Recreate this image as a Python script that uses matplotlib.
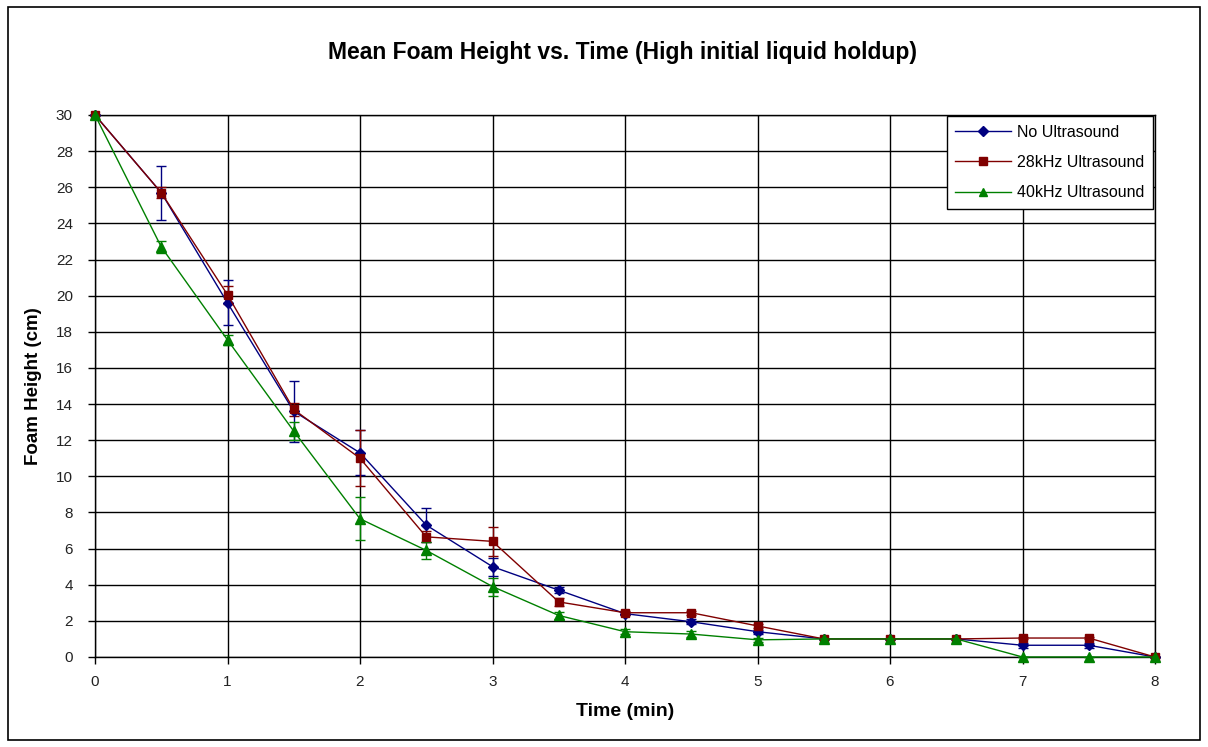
import matplotlib
matplotlib.use("Agg")
import matplotlib.pyplot as plt
from matplotlib.patches import Rectangle
from matplotlib.lines import Line2D

plt.rcParams['font.family'] = ['Liberation Sans', 'DejaVu Sans']

# Sampling times (min)
time_min = [0, 0.5, 1, 1.5, 2, 2.5, 3, 3.5, 4, 4.5, 5, 5.5, 6, 6.5, 7, 7.5, 8]

# Mean foam height (cm) for each condition
no_us = [30, 25.7, 19.6, 13.6, 11.3, 7.3, 5.0, 3.7, 2.4, 1.95, 1.4, 1.0, 1.0, 1.0, 0.65, 0.65, 0]
us_28k = [30, 25.7, 20.05, 13.7, 11.0, 6.65, 6.4, 3.05, 2.45, 2.45, 1.72, 1.0, 1.0, 1.0, 1.05, 1.05, 0]
us_40k = [30, 22.7, 17.55, 12.5, 7.65, 5.9, 3.9, 2.3, 1.4, 1.27, 0.95, 1.0, 1.0, 1.0, 0, 0, 0]

# Error bar half-widths (cm)
no_us_err = [0, 1.5, 1.25, 1.7, 1.25, 0.95, 0.5, 0.15, 0.1, 0.15, 0.1, 0, 0, 0, 0.15, 0.15, 0]
us_28k_err = [0, 0.3, 0.5, 0.35, 1.55, 0.3, 0.8, 0.2, 0.1, 0.1, 0.1, 0, 0, 0, 0.05, 0.05, 0]
us_40k_err = [0, 0.35, 0.3, 0.5, 1.2, 0.45, 0.5, 0.2, 0.15, 0.15, 0.1, 0, 0, 0, 0, 0, 0]

series_labels = ['No Ultrasound', '28kHz Ultrasound', '40kHz Ultrasound']
x_ticks = list(range(0, 9))
y_ticks = list(range(0, 31, 2))

W, H = 1208, 747
fig = plt.figure(figsize=(W / 100, H / 100), dpi=100)
fig.patch.set_facecolor('white')

ax = fig.add_axes([95 / W, 1 - 657 / H, (1155 - 95) / W, (657 - 115) / H])

styles = [
    (no_us, no_us_err, '#000080', 'D', 5.5),
    (us_28k, us_28k_err, '#800000', 's', 6.0),
    (us_40k, us_40k_err, '#008000', '^', 6.5),
]
handles = []
for (vals, err, col, mk, ms), lab in zip(styles, series_labels):
    ax.errorbar(time_min, vals, yerr=err, color=col, marker=mk, markersize=ms,
                linewidth=1.0, elinewidth=1.0, capsize=3.5, capthick=1.0,
                clip_on=False, zorder=3)
    handles.append(Line2D([], [], color=col, marker=mk, markersize=ms * 0.85,
                          linewidth=1.0, label=lab))

ax.set_xlim(0, 8)
ax.set_ylim(0, 30)
ax.set_xticks(x_ticks)
ax.set_yticks(y_ticks)
ax.grid(True, color='black', linewidth=1.0, zorder=0)
ax.set_axisbelow(True)
for s in ax.spines.values():
    s.set_color('black')
    s.set_linewidth(1.0)
ax.tick_params(axis='both', direction='out', length=5, width=1.0,
               labelsize=11, colors='black')
ax.tick_params(axis='y', pad=11)
ax.tick_params(axis='x', pad=8)
for lbl in ax.get_xticklabels() + ax.get_yticklabels():
    lbl.set_color('#222222')

ax.set_xlabel('Time (min)', fontsize=14, fontweight='bold', labelpad=10)
ax.set_ylabel('Foam Height (cm)', fontsize=13.5, fontweight='bold', labelpad=10)

fig.text(622 / W, 1 - 52 / H, 'Mean Foam Height vs. Time (High initial liquid holdup)',
         ha='center', va='center', fontsize=16.5, fontweight='bold')

leg = ax.legend(handles=handles, loc='upper right', bbox_to_anchor=(1153 / W, 1 - 116 / H),
                bbox_transform=fig.transFigure, borderaxespad=0, fancybox=False,
                framealpha=1, edgecolor='black', fontsize=11.5, handlelength=3.5,
                handletextpad=0.35, borderpad=0.55, labelspacing=0.95)
leg.get_frame().set_linewidth(1.0)

fig.patches.append(Rectangle((8 / W, 7 / H), (1200 - 8) / W, (740 - 7) / H,
                             transform=fig.transFigure, fill=False,
                             edgecolor='black', linewidth=1.2))

fig.savefig('out.png', dpi=100, facecolor='white')
